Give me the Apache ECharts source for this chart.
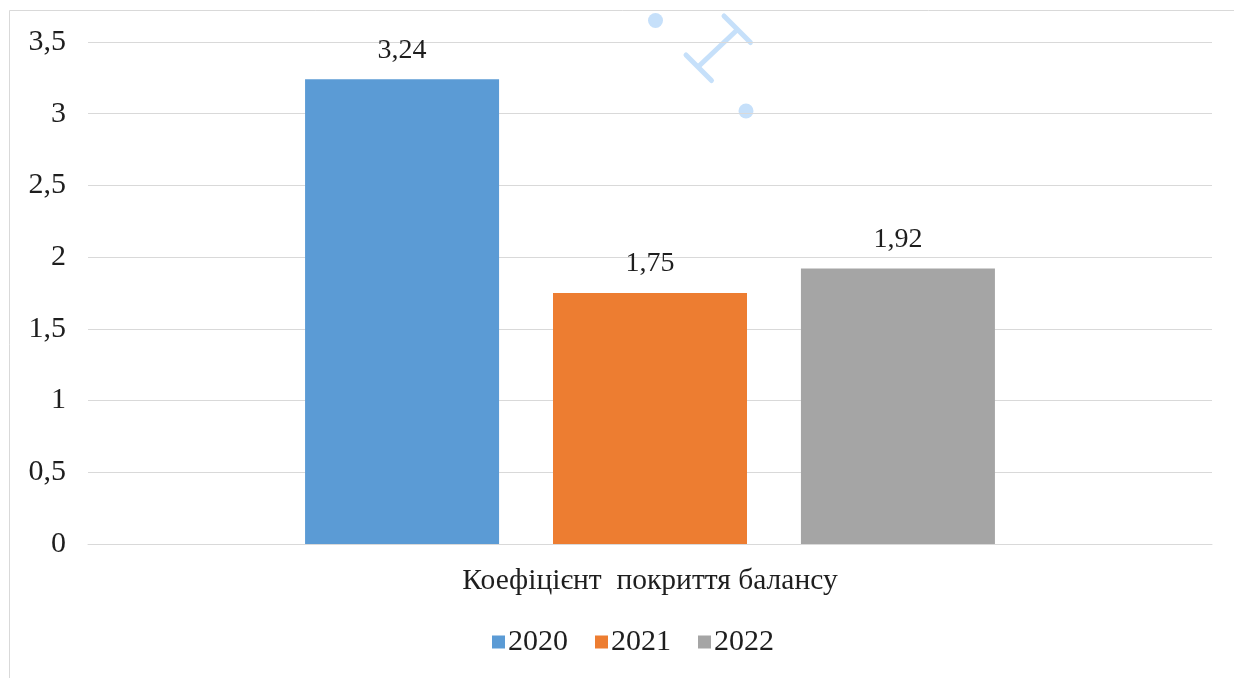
<!DOCTYPE html>
<html>
<head>
<meta charset="utf-8">
<script src="https://cdn.jsdelivr.net/npm/echarts@6/dist/echarts.min.js"></script>
<style>
  html, body { margin: 0; padding: 0; background: #ffffff; }
  #chart { width: 1234px; height: 678px; }
</style>
</head>
<body>
<div id="chart"></div>
<script>
// Balance coverage ratio by year
const categories = ['Коефіцієнт  покриття балансу'];
const years = ['2020', '2021', '2022'];
const values2020 = [3.24];
const values2021 = [1.75];
const values2022 = [1.92];
const yTicks = [0, 0.5, 1, 1.5, 2, 2.5, 3, 3.5];

const colors = ['#5B9BD5', '#ED7D31', '#A5A5A5'];
const seriesValues = [values2020, values2021, values2022];
const FONT = '"Liberation Serif", "Times New Roman", serif';
const TEXT = '#1e1e1e';

const fmt = v => String(v).replace('.', ',');

const chart = echarts.init(document.getElementById('chart'), null, { renderer: 'canvas' });

const series = years.map((y, i) => ({
  name: y,
  type: 'bar',
  data: seriesValues[i],
  barWidth: 194,
  barGap: '27.8%',
  itemStyle: { color: colors[i] },
  label: {
    show: true,
    position: 'top',
    distance: 15,
    color: TEXT,
    fontFamily: FONT,
    fontSize: 28,
    formatter: p => fmt(p.value)
  }
}));

chart.setOption({
  animation: false,
  backgroundColor: '#ffffff',
  grid: { left: 88, right: 22, top: 42, bottom: 134, containLabel: false },
  legend: {
    data: years,
    top: 622,
    left: 487,
    itemWidth: 13,
    itemHeight: 13,
    itemGap: 27,
    icon: 'rect',
    textStyle: { fontFamily: FONT, fontSize: 30, color: TEXT, padding: [0, 0, 0, -2] }
  },
  xAxis: {
    type: 'category',
    data: categories,
    axisLine: { show: true, lineStyle: { color: '#D9D9D9', width: 1 } },
    axisTick: { show: false },
    axisLabel: { margin: 22, fontFamily: FONT, fontSize: 29.5, color: TEXT }
  },
  yAxis: {
    type: 'value',
    min: yTicks[0],
    max: yTicks[yTicks.length - 1],
    interval: 0.5,
    axisLine: { show: false },
    axisTick: { show: false },
    splitLine: { lineStyle: { color: '#D9D9D9', width: 1 } },
    axisLabel: {
      margin: 22,
      fontFamily: FONT,
      fontSize: 30,
      color: TEXT,
      formatter: v => fmt(v)
    }
  },
  series: series,
  graphic: [
    {
      type: 'rect',
      silent: true,
      shape: { x: 9.5, y: 10.5, width: 1260, height: 700 },
      style: { fill: 'none', stroke: '#D9D9D9', lineWidth: 1 }
    },
    {
      type: 'group',
      silent: true,
      children: [
        { type: 'circle', shape: { cx: 655.5, cy: 20.5, r: 7.5 }, style: { fill: '#C6E0FA' } },
        { type: 'circle', shape: { cx: 746, cy: 111, r: 7.5 }, style: { fill: '#C6E0FA' } },
        { type: 'line', shape: { x1: 724, y1: 16, x2: 750.5, y2: 42.5 }, style: { stroke: '#C6E0FA', lineWidth: 5, lineCap: 'round' } },
        { type: 'line', shape: { x1: 737, y1: 30, x2: 699, y2: 66 }, style: { stroke: '#C6E0FA', lineWidth: 5, lineCap: 'round' } },
        { type: 'line', shape: { x1: 686, y1: 55, x2: 711.5, y2: 80.5 }, style: { stroke: '#C6E0FA', lineWidth: 5, lineCap: 'round' } }
      ]
    }
  ]
});
</script>
</body>
</html>
